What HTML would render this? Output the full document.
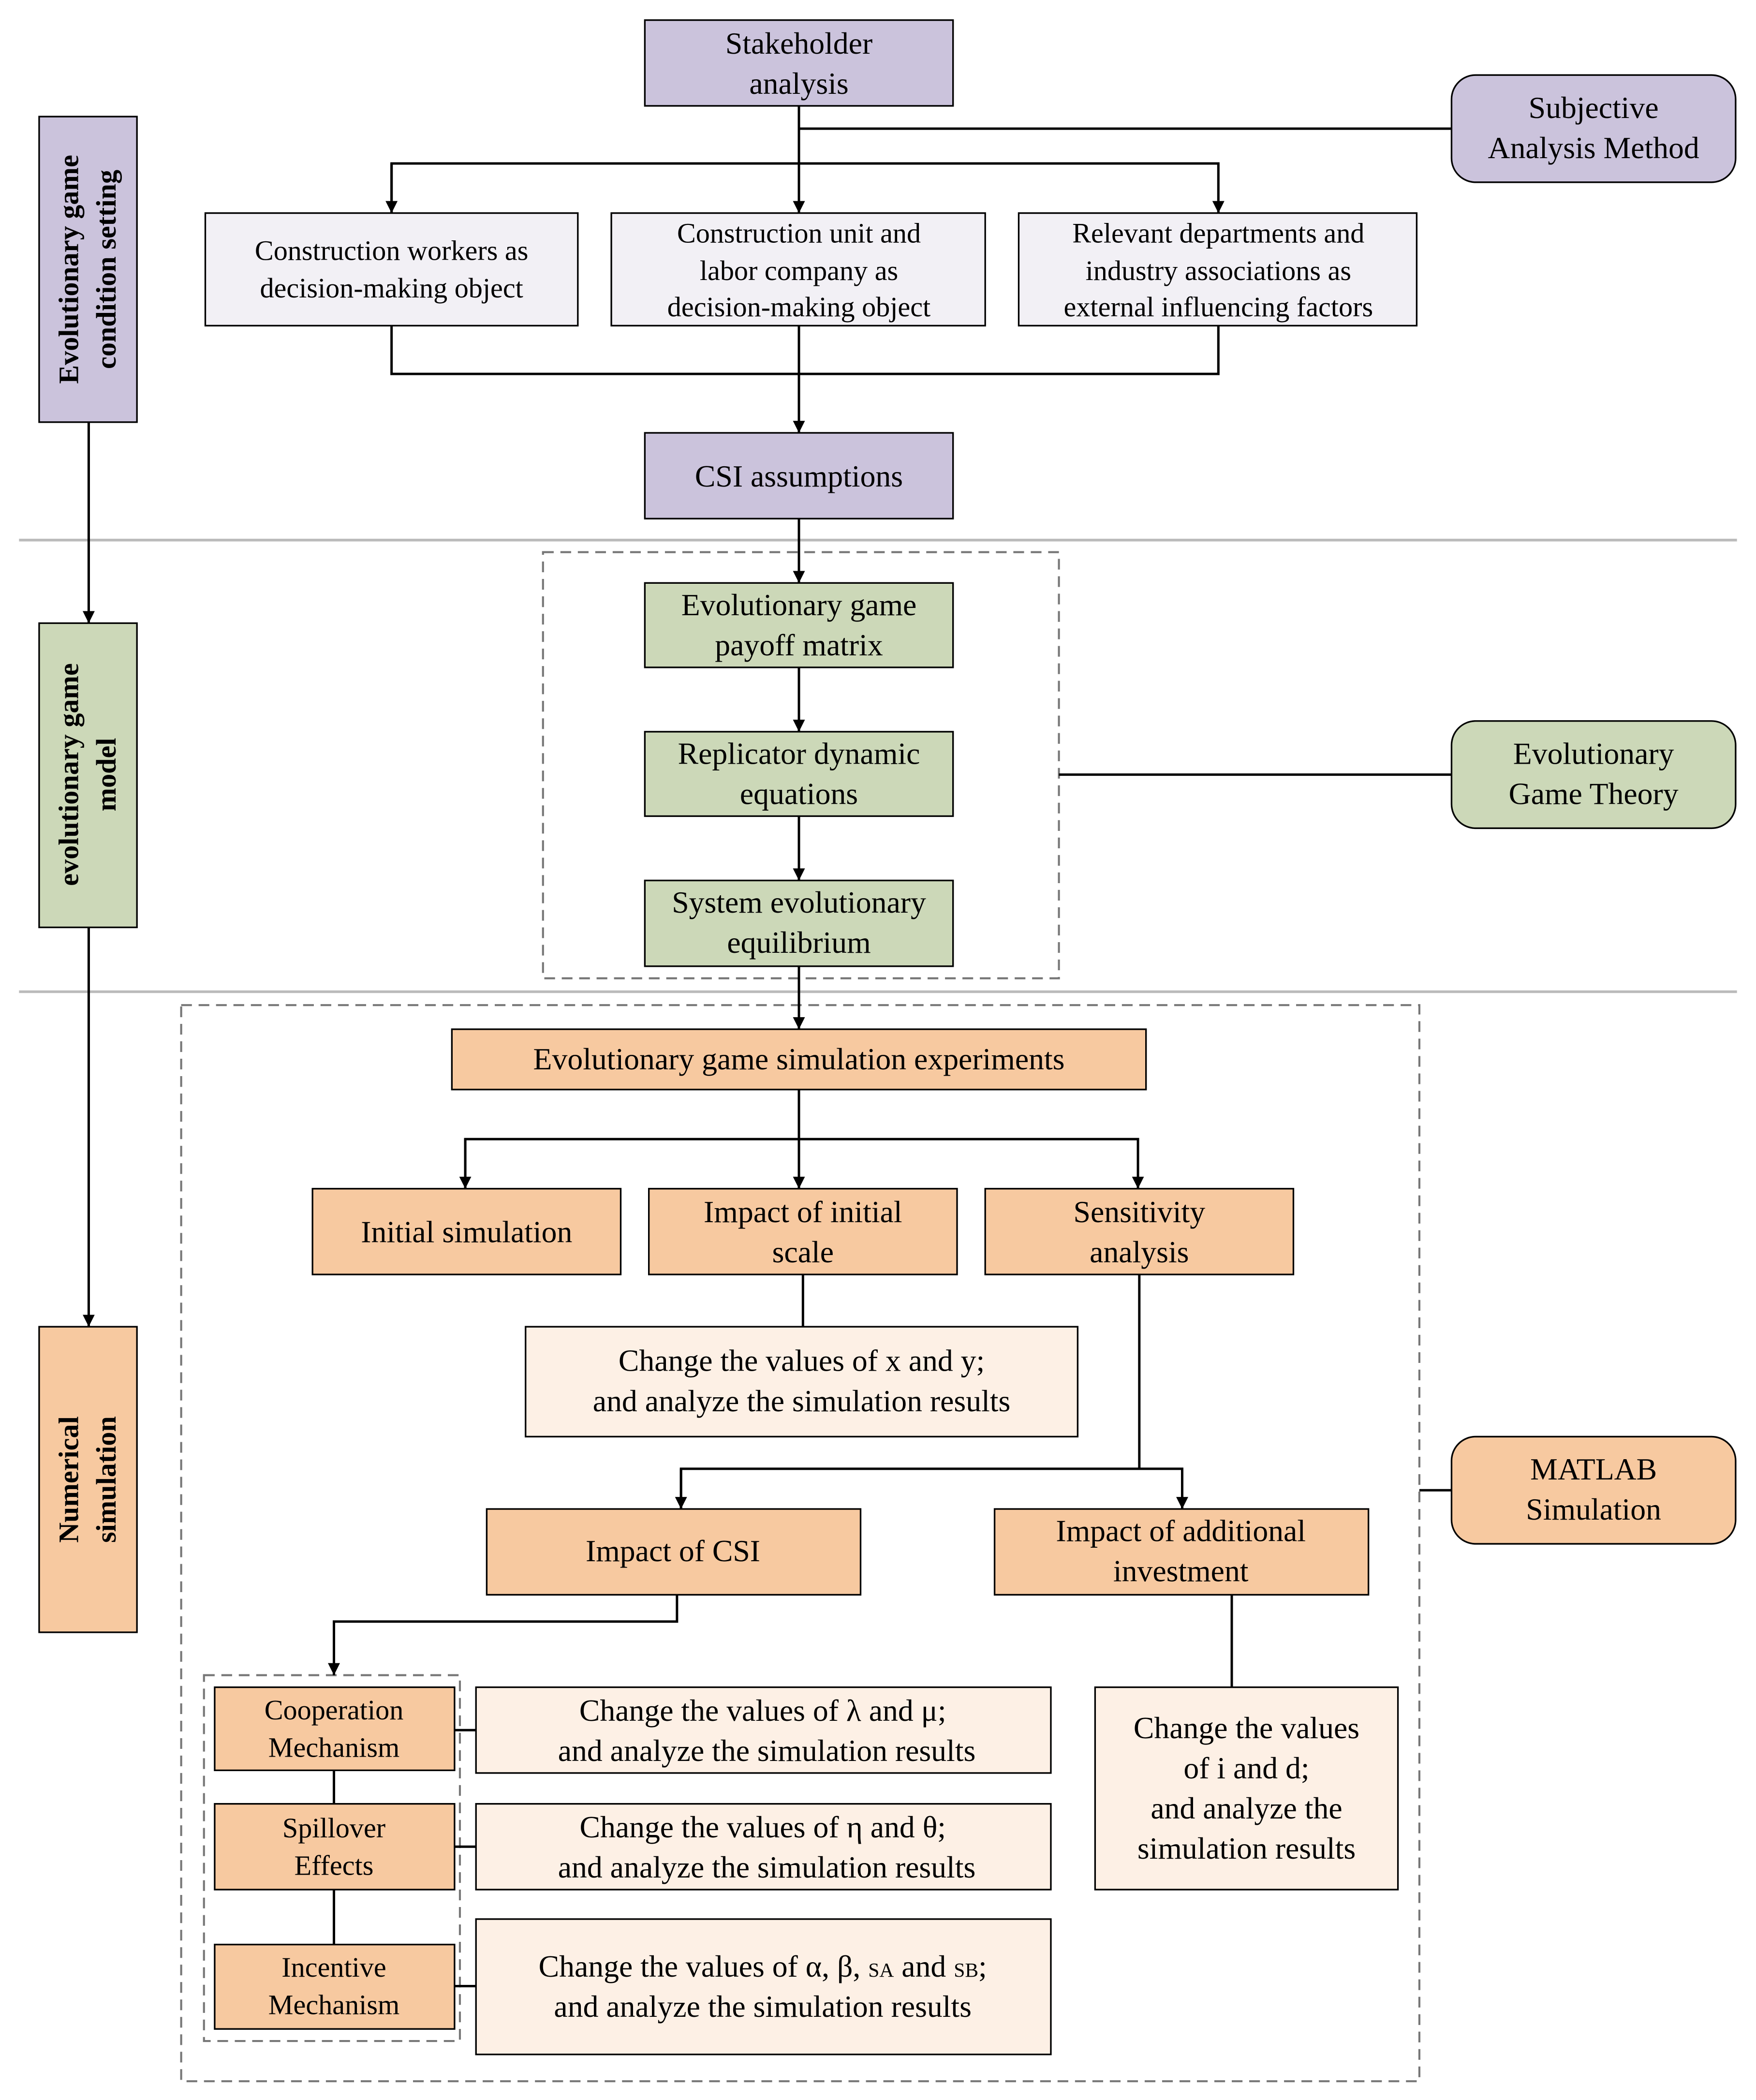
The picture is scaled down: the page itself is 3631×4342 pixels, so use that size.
<!DOCTYPE html>
<html><head><meta charset="utf-8"><style>html,body{margin:0;padding:0;background:#fff}svg{display:block}svg text{font-family:"Liberation Serif","DejaVu Serif",serif;fill:#000}</style></head><body>
<svg width="3631" height="4342" viewBox="0 0 1310 1567" xmlns="http://www.w3.org/2000/svg" font-family="Liberation Serif, serif">
<defs><marker id="a" viewBox="0 0 10 10" refX="10" refY="5" markerWidth="9" markerHeight="16" orient="auto" markerUnits="userSpaceOnUse"><path d="M0,0L10,5L0,10z" fill="#000"/></marker></defs>
<g stroke="#000" stroke-width="1.5" fill="none">
<line x1="14" y1="403" x2="1296" y2="403" stroke="#bbb" stroke-width="2"/>
<line x1="14" y1="740" x2="1296" y2="740" stroke="#bbb" stroke-width="2"/>
</g>
<g font-size="23" text-anchor="middle">
<g stroke="#000" stroke-width="1.2">
<rect x="481" y="15" width="230" height="64" fill="#cbc3dc"/>
<rect x="1083" y="56" width="212" height="80" rx="18" fill="#cbc3dc"/>
<rect x="153" y="159" width="278" height="84" fill="#f2f0f5"/>
<rect x="456" y="159" width="279" height="84" fill="#f2f0f5"/>
<rect x="760" y="159" width="297" height="84" fill="#f2f0f5"/>
<rect x="481" y="323" width="230" height="64" fill="#cbc3dc"/>
<rect x="29" y="87" width="73" height="228" fill="#cbc3dc"/>
<rect x="29" y="465" width="73" height="227" fill="#ccd8b8"/>
<rect x="29" y="990" width="73" height="228" fill="#f7c9a0"/>
<rect x="481" y="435" width="230" height="63" fill="#ccd8b8"/>
<rect x="481" y="546" width="230" height="63" fill="#ccd8b8"/>
<rect x="481" y="657" width="230" height="64" fill="#ccd8b8"/>
<rect x="1083" y="538" width="212" height="80" rx="18" fill="#ccd8b8"/>
<rect x="337" y="768" width="518" height="45" fill="#f7c9a0"/>
<rect x="233" y="887" width="230" height="64" fill="#f7c9a0"/>
<rect x="484" y="887" width="230" height="64" fill="#f7c9a0"/>
<rect x="735" y="887" width="230" height="64" fill="#f7c9a0"/>
<rect x="392" y="990" width="412" height="82" fill="#fdf0e5"/>
<rect x="363" y="1126" width="279" height="64" fill="#f7c9a0"/>
<rect x="742" y="1126" width="279" height="64" fill="#f7c9a0"/>
<rect x="1083" y="1072" width="212" height="80" rx="18" fill="#f7c9a0"/>
<rect x="160" y="1259" width="179" height="62" fill="#f7c9a0"/>
<rect x="160" y="1346" width="179" height="64" fill="#f7c9a0"/>
<rect x="160" y="1451" width="179" height="63" fill="#f7c9a0"/>
<rect x="355" y="1259" width="429" height="64" fill="#fdf0e5"/>
<rect x="355" y="1346" width="429" height="64" fill="#fdf0e5"/>
<rect x="355" y="1432" width="429" height="101" fill="#fdf0e5"/>
<rect x="817" y="1259" width="226" height="151" fill="#fdf0e5"/>
</g>
<g stroke="#777" stroke-width="1.5" fill="none" stroke-dasharray="8,5">
<rect x="405" y="412" width="385" height="318"/>
<rect x="135" y="750" width="924" height="803"/>
<rect x="152" y="1250" width="191" height="273"/>
</g>
<g stroke="#000" stroke-width="1.8" fill="none">
<line x1="596" y1="79" x2="596" y2="159" marker-end="url(#a)"/>
<line x1="596" y1="96" x2="1083" y2="96"/>
<polyline points="292,159 292,122 909,122 909,159" marker-end="url(#a)"/>
<line x1="292" y1="122" x2="292" y2="159" marker-end="url(#a)"/>
<polyline points="292,243 292,279 909,279 909,243"/>
<line x1="596" y1="243" x2="596" y2="323" marker-end="url(#a)"/>
<line x1="596" y1="387" x2="596" y2="435" marker-end="url(#a)"/>
<line x1="596" y1="498" x2="596" y2="546" marker-end="url(#a)"/>
<line x1="596" y1="609" x2="596" y2="657" marker-end="url(#a)"/>
<line x1="596" y1="721" x2="596" y2="768" marker-end="url(#a)"/>
<line x1="790" y1="578" x2="1083" y2="578"/>
<line x1="66" y1="315" x2="66" y2="465" marker-end="url(#a)"/>
<line x1="66" y1="692" x2="66" y2="990" marker-end="url(#a)"/>
<line x1="596" y1="813" x2="596" y2="887" marker-end="url(#a)"/>
<polyline points="347,887 347,850 849,850 849,887" marker-end="url(#a)"/>
<line x1="347" y1="850" x2="347" y2="887" marker-end="url(#a)"/>
<line x1="599" y1="951" x2="599" y2="990"/>
<polyline points="850,951 850,1096"/>
<polyline points="508,1126 508,1096 882,1096 882,1126" marker-end="url(#a)"/>
<line x1="508" y1="1096" x2="508" y2="1126" marker-end="url(#a)"/>
<line x1="919" y1="1190" x2="919" y2="1259"/>
<line x1="1059" y1="1112" x2="1083" y2="1112"/>
<polyline points="505,1190 505,1210 249,1210 249,1250" marker-end="url(#a)"/>
<line x1="249" y1="1321" x2="249" y2="1346"/>
<line x1="249" y1="1410" x2="249" y2="1451"/>
<line x1="339" y1="1291" x2="355" y2="1291"/>
<line x1="339" y1="1378" x2="355" y2="1378"/>
<line x1="339" y1="1482" x2="355" y2="1482"/>
</g>
<text x="596" y="40">Stakeholder</text><text x="596" y="70">analysis</text>
<text x="1189" y="88">Subjective</text><text x="1189" y="118">Analysis Method</text>
<text x="292" y="194" font-size="21">Construction workers as</text><text x="292" y="222" font-size="21">decision-making object</text>
<text x="596" y="181" font-size="21">Construction unit and</text><text x="596" y="209" font-size="21">labor company as</text><text x="596" y="236" font-size="21">decision-making object</text>
<text x="909" y="181" font-size="21">Relevant departments and</text><text x="909" y="209" font-size="21">industry associations as</text><text x="909" y="236" font-size="21">external influencing factors</text>
<text x="596" y="363">CSI assumptions</text>
<text x="596" y="459">Evolutionary game</text><text x="596" y="489">payoff matrix</text>
<text x="596" y="570">Replicator dynamic</text><text x="596" y="600">equations</text>
<text x="596" y="681">System evolutionary</text><text x="596" y="711">equilibrium</text>
<text x="1189" y="570">Evolutionary</text><text x="1189" y="600">Game Theory</text>
<text x="596" y="798">Evolutionary game simulation experiments</text>
<text x="348" y="927">Initial simulation</text>
<text x="599" y="912">Impact of initial</text><text x="599" y="942">scale</text>
<text x="850" y="912">Sensitivity</text><text x="850" y="942">analysis</text>
<text x="598" y="1023">Change the values of x and  y;</text><text x="598" y="1053">and analyze the simulation results</text>
<text x="502" y="1165">Impact of CSI</text>
<text x="881" y="1150">Impact of additional</text><text x="881" y="1180">investment</text>
<text x="1189" y="1104">MATLAB</text><text x="1189" y="1134">Simulation</text>
<text x="249" y="1283" font-size="21">Cooperation</text><text x="249" y="1311" font-size="21">Mechanism</text>
<text x="249" y="1371" font-size="21">Spillover</text><text x="249" y="1399" font-size="21">Effects</text>
<text x="249" y="1475" font-size="21">Incentive</text><text x="249" y="1503" font-size="21">Mechanism</text>
<text x="569" y="1284">Change the values of λ and μ;</text><text x="572" y="1314">and analyze the simulation results</text>
<text x="569" y="1371">Change the values of η and θ;</text><text x="572" y="1401">and analyze the simulation results</text>
<text x="569" y="1475">Change the values of α, β, <tspan font-size="15">SA</tspan> and <tspan font-size="15">SB</tspan>;</text><text x="569" y="1505">and analyze the simulation results</text>
<text x="930" y="1297">Change the values</text><text x="930" y="1327">of i and d;</text><text x="930" y="1357">and analyze the</text><text x="930" y="1387">simulation results</text>
<g font-weight="bold" font-size="21">
<text transform="translate(58,201) rotate(-90)">Evolutionary game</text>
<text transform="translate(86,201) rotate(-90)">condition setting</text>
<text transform="translate(58,578) rotate(-90)">evolutionary game</text>
<text transform="translate(86,578) rotate(-90)">model</text>
<text transform="translate(58,1104) rotate(-90)">Numerical</text>
<text transform="translate(86,1104) rotate(-90)">simulation</text>
</g>
</g>
</svg>
</body></html>
